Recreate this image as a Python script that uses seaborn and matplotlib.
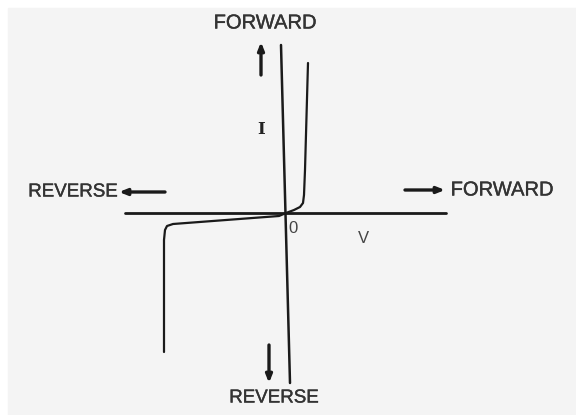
# Libraries
# ===================================================
import pandas as pd
import seaborn as sns
import matplotlib.pyplot as plt
import matplotlib.patheffects as patheffects
from matplotlib.patches import Rectangle

# Data (arbitrary units, origin at 0,0)
# ===================================================
# Forward characteristic
fwd_v = [0, 8, 14, 17, 18, 19, 22]
fwd_i = [0, 3, 6, 10, 18, 43, 150]

# Reverse characteristic (leakage then breakdown)
rev_v = [0, -7, -113, -119, -121, -122, -122]
rev_i = [0, -3, -11, -13, -17, -27, -139]

# Axis lines
haxis_v = [-161, 160]
haxis_i = [0, 0]
vaxis_v = [-5, 4]
vaxis_i = [168, -170]

df_fwd = pd.DataFrame({'V': fwd_v, 'I': fwd_i})
df_rev = pd.DataFrame({'V': rev_v, 'I': rev_i})
df_h = pd.DataFrame({'V': haxis_v, 'I': haxis_i})
df_v = pd.DataFrame({'V': vaxis_v, 'I': vaxis_i})

# Visualization
# ===================================================
sns.set_style('white')
plt.rcParams['font.family'] = ['Liberation Sans', 'DejaVu Sans']

fig = plt.figure(figsize=(5.76, 4.15), dpi=100)
fig.patch.set_facecolor('white')
fig.add_artist(Rectangle((8 / 576, 0), 1, 1 - 8 / 415, transform=fig.transFigure,
                         color='#f4f4f4', zorder=-10))
ax = fig.add_axes([0, 0, 1, 1])
ax.set_facecolor('none')

ink = '#1a1a1a'
line_kw = dict(x='V', y='I', sort=False, estimator=None, color=ink, ax=ax, legend=False)
sns.lineplot(data=df_h, linewidth=2.0, **line_kw)
sns.lineplot(data=df_v, linewidth=1.8, **line_kw)
sns.lineplot(data=df_fwd, linewidth=1.6, **line_kw)
sns.lineplot(data=df_rev, linewidth=1.6, **line_kw)

ax.set_xlim(-286, 290)
ax.set_ylim(-202, 213)
ax.axis('off')

# Labels
stroke = [patheffects.withStroke(linewidth=0.25, foreground='#333333')]
txt = dict(color='#333333', ha='center', va='center', path_effects=stroke)
ax.text(-21, 190, 'FORWARD', fontsize=14.5, **txt)
ax.text(216, 23, 'FORWARD', fontsize=14.5, **txt)
ax.text(-12, -185, 'REVERSE', fontsize=13.5, **txt)
ax.text(-213, 21, 'REVERSE', fontsize=13.5, **txt)
ax.text(-25, 83, 'I', color='#222222', fontsize=12, ha='center', va='center',
        family='DejaVu Serif', fontweight='bold')
ax.text(7, -15, '0', fontsize=12, color='#444444', ha='center', va='center')
ax.text(77, -25, 'V', fontsize=12, color='#444444', ha='center', va='center')

# Arrows
arr = dict(arrowstyle='-|>,head_length=0.45,head_width=0.18', color=ink, lw=2.4,
           shrinkA=0, shrinkB=0)
ax.annotate('', xy=(-25, 171), xytext=(-25, 138), arrowprops=arr)
ax.annotate('', xy=(-17, -170), xytext=(-17, -132), arrowprops=arr)
ax.annotate('', xy=(-167, 21), xytext=(-121, 21), arrowprops=arr)
ax.annotate('', xy=(159, 23), xytext=(119, 23), arrowprops=arr)

plt.savefig('out.png', dpi=100)
